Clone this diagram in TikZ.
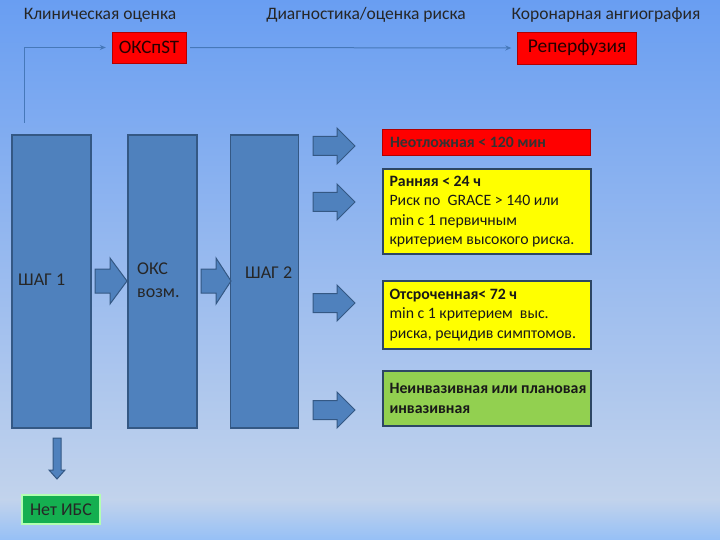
\documentclass[tikz,border=0pt]{standalone}
\usepackage{fontspec}
\setmainfont{Carlito}
\usetikzlibrary{arrows.meta}
\definecolor{bgA}{RGB}{105,158,242}
\definecolor{bgB}{RGB}{194,211,236}
\definecolor{bgC}{RGB}{150,192,246}
\definecolor{colfill}{RGB}{79,129,189}
\definecolor{colline}{RGB}{52,88,132}
\definecolor{connc}{RGB}{70,120,185}
\definecolor{boxline}{RGB}{45,70,100}
\definecolor{ylw}{RGB}{255,255,0}
\definecolor{grn}{RGB}{146,208,80}
\definecolor{grn2}{RGB}{20,175,80}
\newcommand\hbarrow[6]{% x1,x2,yc,shaft half,head half,head len
  \draw[barrow] (#1,#3-#4) -- (#2-#6,#3-#4) -- (#2-#6,#3-#5) -- (#2,#3) -- (#2-#6,#3+#5) -- (#2-#6,#3+#4) -- (#1,#3+#4) -- cycle;}
\begin{document}
\begin{tikzpicture}[x=1bp,y=-1bp,
  colbox/.style={draw=colline, line width=1.2bp, fill=colfill, minimum width=#1, inner sep=0pt},
  barrow/.style={draw=colline, line width=1bp, fill=colfill},
  redbox/.style={draw=red!70!black, fill=red, inner sep=0pt},
  optbox/.style={draw=boxline, line width=1.3bp, minimum width=208bp, inner sep=0pt},
  btext/.style={anchor=west, align=left, inner sep=0pt, font=\fontsize{15.8bp}{19.5bp}\selectfont, text=black!90},
  hdr/.style={inner sep=0pt, font=\fontsize{17.5bp}{20bp}\selectfont, text=black!85},
  coltext/.style={inner sep=0pt, anchor=west, align=left, font=\fontsize{18bp}{23bp}\selectfont, text=black!85},
  conn/.style={draw=connc, line width=1bp, -{Stealth[length=6bp,width=5bp]}}]
\useasboundingbox (0,0) rectangle (720,540);
\shade[top color=bgA, bottom color=bgB] (0,0) rectangle (720,500);
\shade[top color=bgB, bottom color=bgC] (0,499.5) rectangle (720,540);
% headers
\node[hdr] (h1) at (100,15) {Клиническая оценка};
\node[hdr] (h2) at (366,15) {Диагностика/оценка риска};
\node[hdr] (h3) at (606,15) {Коронарная ангиография};
% top red boxes
\node[redbox, minimum width=74bp, minimum height=31bp, font=\fontsize{19bp}{20bp}\selectfont, text=black!85!red] (okc) at (149,47.5) {ОКСпST};
\node[redbox, minimum width=119bp, minimum height=32bp, font=\fontsize{19.5bp}{20bp}\selectfont, text=black!85!red] (rep) at (577,48) {Реперфузия};
\coordinate (s) at (24,123);
\draw[conn, shorten >=6bp] (s) |- (okc.west);
\draw[conn, shorten <=4bp, shorten >=6bp] (okc.east) -- (rep.west);
% columns
\node[colbox=79bp, minimum height=293bp] (c1) at (51.5,281.5) {};
\node[colbox=69bp, minimum height=293bp] (c2) at (162.5,281.5) {};
\node[colbox=68bp, minimum height=293bp] (c3) at (264.5,281.5) {};
\node[coltext] (t1) at (18,280) {ШАГ 1};
\node[coltext] (t2) at (137,280) {ОКС\\возм.};
\node[coltext] (t3) at (245,273) {ШАГ 2};
% block arrows between columns
\hbarrow{95}{127}{281}{12}{23}{17}
\hbarrow{201}{231}{281}{12}{23}{15}
% right arrows
\hbarrow{313}{355}{146}{9.5}{18}{18}
\hbarrow{313}{355}{202}{9.5}{18}{18}
\hbarrow{313}{355}{303}{9.5}{18}{18}
\hbarrow{313}{355}{410}{9.5}{18}{18}
% right boxes
\node[redbox, draw=red!70!black, minimum width=208bp, minimum height=26bp] (r0) at (486,142) {};
\node[btext, font=\bfseries\fontsize{15.8bp}{19.5bp}\selectfont, text=black!80] at ([xshift=8bp]r0.west) {Неотложная < 120 мин};
\node[optbox, fill=ylw, minimum height=85bp] (r1) at (487,211.5) {};
\node[btext] at ([xshift=7bp]r1.west) {\textbf{Ранняя < 24 ч}\\Риск по~ GRACE > 140 или\\min с 1 первичным\\критерием высокого риска.};
\node[optbox, fill=ylw, minimum height=68bp] (r2) at (487,315) {};
\node[btext] at ([xshift=7bp]r2.west) {\textbf{Отсроченная< 72 ч}\\min с 1 критерием~ выс.\\риска, рецидив симптомов.};
\node[optbox, fill=grn, minimum height=55bp] (r3) at (487,398.5) {};
\node[btext, font=\bfseries\fontsize{15.8bp}{19.5bp}\selectfont] at ([xshift=7bp]r3.west) {Неинвазивная или плановая\\инвазивная};
% down arrow and Нет ИБС
\node[fill=grn2, draw=green!30!white, line width=2.5bp, minimum width=78bp, minimum height=29bp, inner sep=0pt, font=\fontsize{18bp}{19bp}\selectfont, text=black!85] (no) at (61,509.5) {Нет ИБС};
\draw[barrow] (53,438) -- (61,438) -- (61,470) -- (65,470) -- (57,479) -- (49,470) -- (53,470) -- cycle;
\end{tikzpicture}
\end{document}
